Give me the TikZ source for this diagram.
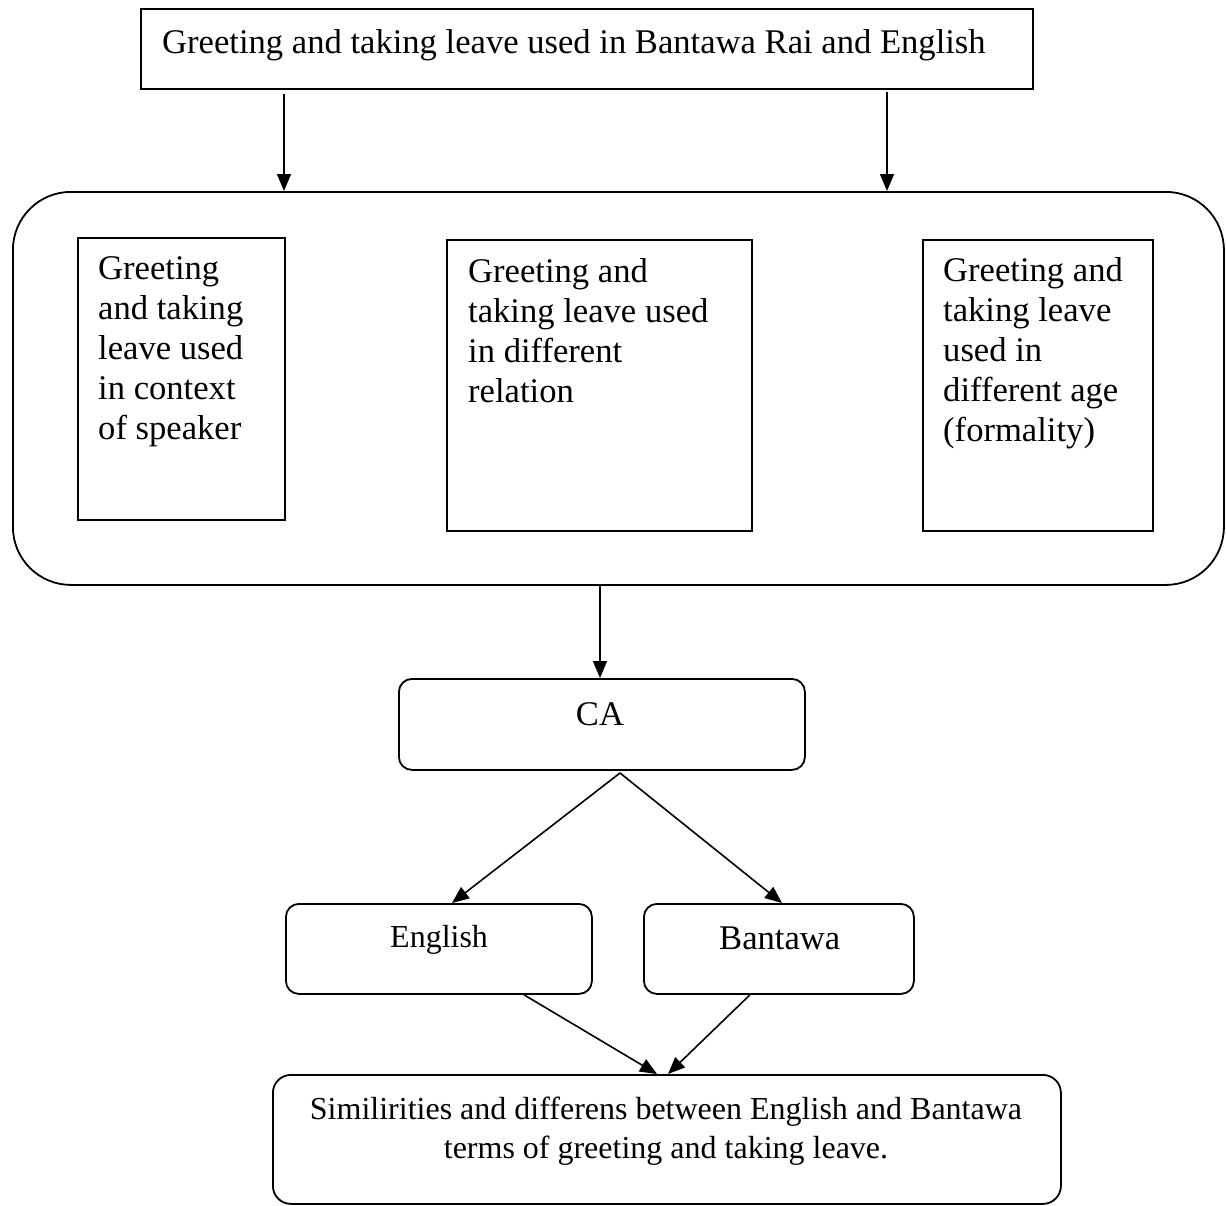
\documentclass[tikz,border=0pt]{standalone}
\usepackage{fontspec}
\setmainfont{Liberation Serif}
\usetikzlibrary{arrows.meta}
\newcommand{\bigfs}{\fontsize{34.6}{40}\selectfont}
\newcommand{\midfs}{\fontsize{32}{39}\selectfont}
\tikzset{
  box/.style={draw, line width=1.8pt, inner sep=0pt, anchor=north west},
  rbox/.style={box, rounded corners=13pt},
  lbl/.style={inner sep=0pt, anchor=base west, font=\bigfs},
  arr/.style={line width=1.6pt, -{Triangle[length=17pt,width=14pt]}},
}
\begin{document}
\begin{tikzpicture}[x=1pt,y=-1pt]
\useasboundingbox (0,0) rectangle (1226,1205);
% boxes
\node[box, minimum width=892pt, minimum height=80pt] (top) at (140,8) {};
\node[box, rounded corners=58pt, minimum width=1211pt, minimum height=393pt] (big) at (12,191) {};
\node[box, minimum width=207pt, minimum height=282pt] (b1) at (77,237) {};
\node[box, minimum width=305pt, minimum height=291pt] (b2) at (446,239) {};
\node[box, minimum width=230pt, minimum height=291pt] (b3) at (922,239) {};
\node[rbox, minimum width=406pt, minimum height=91pt] (ca) at (398,678) {};
\node[rbox, minimum width=306pt, minimum height=90pt] (en) at (285,903) {};
\node[rbox, minimum width=270pt, minimum height=90pt] (ba) at (643,903) {};
\node[box, rounded corners=18pt, minimum width=788pt, minimum height=129pt] (bot) at (272,1074) {};
% texts
\node[lbl] (ttop) at (162,53) {Greeting and taking leave used in Bantawa Rai and English};
\node[lbl] (t1) at (98,279) {\parbox[t]{200pt}{\raggedright Greeting\\and taking\\leave used\\in context\\of speaker}};
\node[lbl] (t2) at (468,282) {\parbox[t]{300pt}{\raggedright Greeting and\\taking leave used\\in different\\relation}};
\node[lbl] (t3) at (943,281) {\parbox[t]{220pt}{\raggedright Greeting and\\taking leave\\used in\\different age\\(formality)}};
\node[lbl, anchor=base] (tca) at (600,725) {CA};
\node[lbl, font=\midfs] (ten) at (390,947) {English};
\node[lbl] (tba) at (719,949) {Bantawa};
\node[lbl, anchor=base, font=\midfs] (tbot) at (666,1119) {\parbox[t]{800pt}{\centering Similirities and differens between English and Bantawa\\terms of greeting and taking leave.}};
% connectors
\coordinate (apex) at (620,773);
\draw[arr, shorten <=4pt] (top.south -| 284,0) -- (big.north -| 284,0);
\draw[arr, shorten <=2pt] (top.south -| 887,0) -- (big.north -| 887,0);
\draw[arr] (big.south -| 600,0) -- (ca.north -| 600,0);
\draw[arr] (apex) -- (en.north -| 452,0);
\draw[arr] (apex) -- (ba.north -| 782,0);
\draw[arr] (en.south -| 524,0) -- (bot.north -| 657,0);
\draw[arr] (ba.south -| 750,0) -- (bot.north -| 668,0);
\end{tikzpicture}
\end{document}
